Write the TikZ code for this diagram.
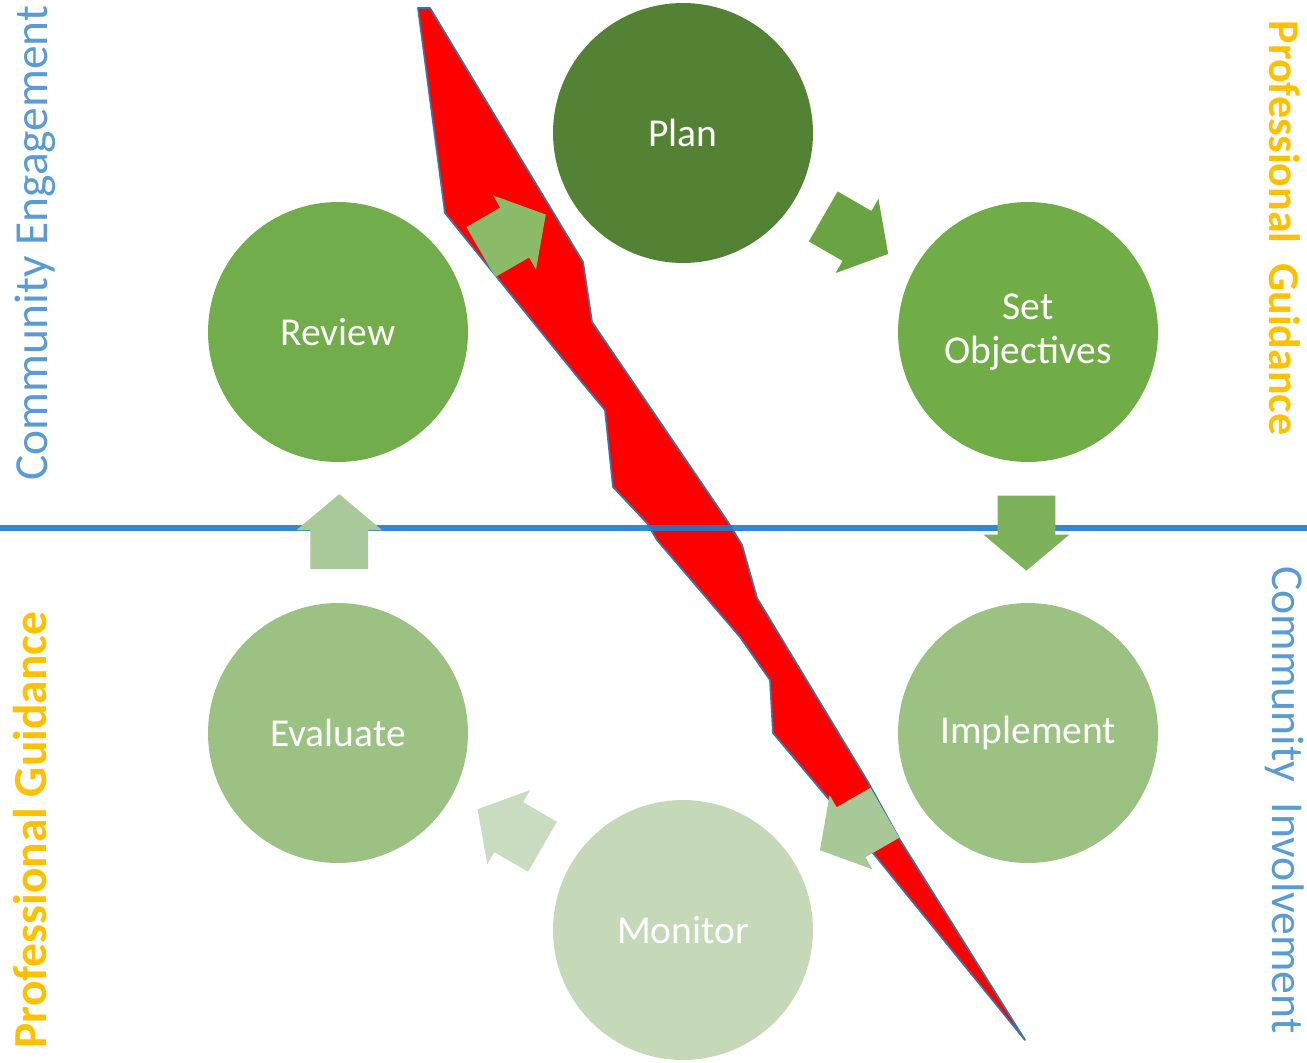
\documentclass[tikz,border=0pt]{standalone}
\usepackage{fontspec}
\setmainfont{Carlito}
\usetikzlibrary{calc}
\usetikzlibrary{shapes.arrows}

\definecolor{plangreen}{HTML}{548235}
\definecolor{midgreen}{HTML}{70AD47}
\definecolor{lightgreen}{HTML}{9CC283}
\definecolor{palegreen}{HTML}{C5D9B9}
\definecolor{engblue}{HTML}{5B9BD5}
\definecolor{guideyellow}{HTML}{FFC000}
\definecolor{divblue}{HTML}{1F7BC9}
\definecolor{boltedge}{HTML}{41719C}

\begin{document}
\begin{tikzpicture}[x=0.02cm,y=-0.02cm,
    stage/.style={circle,minimum size=5.2cm,inner sep=0pt,text=white,align=center,
      font=\fontsize{22.5}{25.5}\selectfont},
    cycarrow/.style={single arrow,draw=none,inner xsep=0pt,inner ysep=0.57cm,minimum height=1.5cm,
      single arrow head extend=0.28cm,single arrow tip angle=100,single arrow head indent=0pt,anchor=tail},
    side/.style={font=\fontsize{27}{30}\selectfont}]

    % page size
    \useasboundingbox (0,0) rectangle (1307,1062);

    % lightning bolt
    \draw[fill=red,draw=boltedge,line width=1pt,line join=round]
      (418,8) -- (430,8) -- (583,262) -- (592,322) -- (728,522) -- (742,545)
      -- (757,598) -- (868,782) -- (900,840) -- (1025,1040) -- (873,853)
      -- (827,797) -- (773,733) -- (770,680) -- (740,637) -- (657,540)
      -- (647,523) -- (613,487) -- (605,410) -- (580,380) -- (445,213) -- cycle;

    % dividing line
    \coordinate (divL) at (0,528);
    \coordinate (divR) at (1307,528);
    \draw[divblue,line width=3.4pt,opacity=0.9] (divL) -- (divR);

    % cycle stages
    \coordinate (hub) at (683,532);
    \node[stage,fill=plangreen] (plan) at (683,133) {Plan};
    \node[stage,fill=midgreen] (setobj) at (1028,332) {Set\\Objectives};
    \node[stage,fill=lightgreen] (implement) at (1028,733) {Implement};
    \node[stage,fill=palegreen] (monitor) at (683,930) {Monitor};
    \node[stage,fill=lightgreen] (evaluate) at (338,733) {Evaluate};
    \node[stage,fill={rgb,255:red,113;green,173;blue,74}] (review) at (338,332) {Review};

    % arrows between stages (tail placed on the ring)
    \node[cycarrow,fill={rgb,255:red,106;green,164;blue,66},rotate=-30] (planset) at ($(hub)!0.866!36:(setobj)$) {};
    \node[cycarrow,fill={rgb,255:red,125;green,178;blue,90},rotate=-90] (setimpl) at ($(hub)!0.866!-24:(setobj)$) {};
    \node[cycarrow,fill={rgb,255:red,168;green,201;blue,151},rotate=-150] (implmon) at ($(hub)!0.866!-24:(implement)$) {};
    \node[cycarrow,fill={rgb,255:red,201;green,220;blue,192},rotate=150] (moneval) at ($(hub)!0.866!-24:(monitor)$) {};
    \node[cycarrow,fill={rgb,255:red,169;green,201;blue,154},rotate=90] (evalrev) at ($(hub)!0.866!-24:(evaluate)$) {};
    \node[cycarrow,fill={rgb,255:red,139;green,186;blue,105},rotate=30] (revplan) at ($(hub)!0.866!-24:(review)$) {};

    % side labels
    \node[side,text=engblue,rotate=90] (engage) at (35,243) {Community Engagement};
    \node[side,text=guideyellow,rotate=90,font=\fontsize{27}{30}\selectfont\bfseries] (guideL) at (30,830) {Professional Guidance};
    \node[side,text=guideyellow,rotate=-90,font=\fontsize{25}{30}\selectfont\bfseries] (guideR) at (1285,228) {Professional\ \ Guidance};
    \node[side,text=engblue,rotate=-90,font=\fontsize{26}{30}\selectfont] (involve) at (1285,800) {Community\ \ Involvement};
\end{tikzpicture}
\end{document}
